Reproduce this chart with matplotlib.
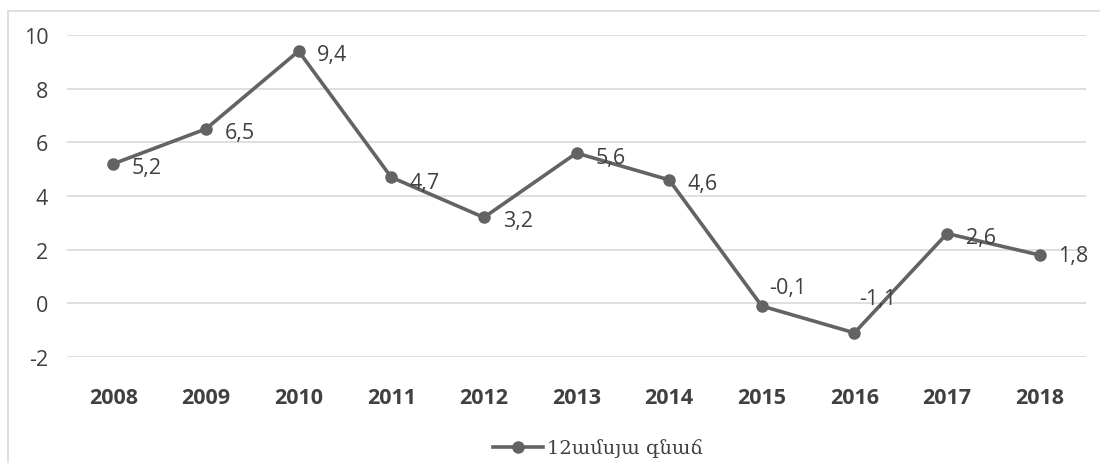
import matplotlib
matplotlib.use("Agg")
import matplotlib.pyplot as plt
from matplotlib.lines import Line2D

years = ["2008", "2009", "2010", "2011", "2012", "2013", "2014", "2015", "2016", "2017", "2018"]
values = [5.2, 6.5, 9.4, 4.7, 3.2, 5.6, 4.6, -0.1, -1.1, 2.6, 1.8]
labels = ["5,2", "6,5", "9,4", "4,7", "3,2", "5,6", "4,6", "-0,1", "-1,1", "2,6", "1,8"]
yticks = [-2, 0, 2, 4, 6, 8, 10]
series_name = "12ամսյա գնաճ"

W, H = 1100, 464
fig = plt.figure(figsize=(W / 100, H / 100), dpi=100)
ax = fig.add_axes([67 / W, 1 - 358 / H, (1086 - 67) / W, (358 - 36) / H])

color = "#636363"
txt = "#404040"
FONT = "Open Sans"
FS = 15.5
x = list(range(len(years)))
ax.plot(x, values, color=color, lw=2.6, marker="o", ms=8, zorder=3)

offsets = [(13.5, -2.5), (13.5, -2.5), (13.5, -2.5), (13.5, -3.5), (13.5, -2.5), (13.5, -3.5),
           (13.5, -2.5), (5, 13.5), (3.5, 24.5), (13.5, -3), (13.5, 0)]
for xi, v, lab, off in zip(x, values, labels, offsets):
    ax.annotate(lab, (xi, v), xytext=off, textcoords="offset points",
                ha="left", va="center", fontsize=FS, color=txt, family=FONT)

ax.set_xlim(-0.5, len(years) - 0.5)
ax.set_ylim(-2, 10)
ax.set_yticks(yticks)
ax.set_yticklabels([str(t) for t in yticks], fontsize=FS, color=txt, family=FONT)
ax.set_xticks(x)
ax.set_xticklabels(years, fontsize=FS, fontweight="bold", color=txt, family=FONT)
ax.grid(axis="y", color="#d9d9d9", lw=1.2)
ax.set_axisbelow(True)
for s in ax.spines.values():
    s.set_visible(False)
ax.tick_params(axis="y", length=0, pad=13.5)
ax.tick_params(axis="x", length=0, pad=21.5)

handle = Line2D([], [], color=color, lw=2.6, marker="o", ms=8)
leg = fig.legend([handle], [series_name], loc="center", bbox_to_anchor=(598 / W, 1 - 449 / H),
                 frameon=False, prop={"family": "DejaVu Serif", "size": 14}, handlelength=2.6,
                 handletextpad=0.2)
for t in leg.get_texts():
    t.set_color(txt)

# outer chart-area border (top and left edges visible)
fig.add_artist(Line2D([8 / W, 1], [1 - 12 / H, 1 - 12 / H], transform=fig.transFigure,
                      color="#d9d9d9", lw=1.2))
fig.add_artist(Line2D([8 / W, 8 / W], [0, 1 - 12 / H], transform=fig.transFigure,
                      color="#d9d9d9", lw=1.2))

fig.savefig("out.png", dpi=100)
